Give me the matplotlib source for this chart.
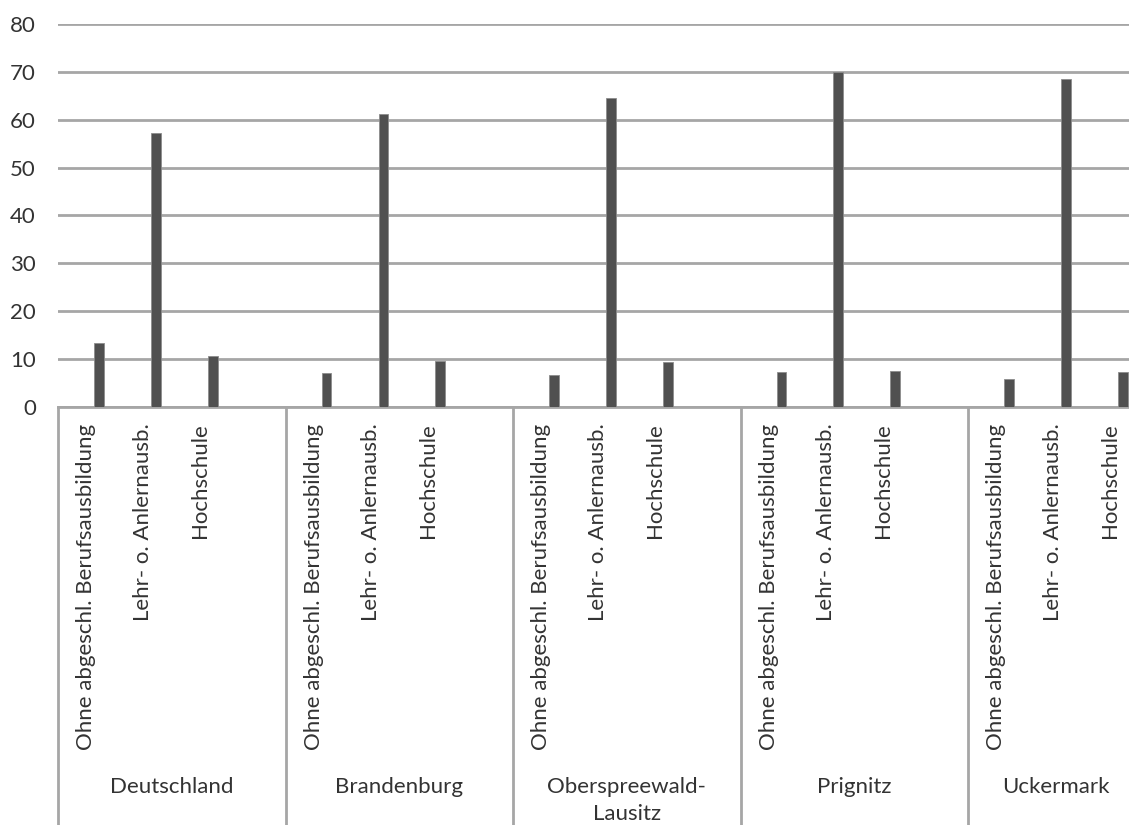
import numpy as np
import matplotlib
matplotlib.use("Agg")
import matplotlib.pyplot as plt
from matplotlib.transforms import blended_transform_factory

# --- Daten ---
regionen = ["Deutschland", "Brandenburg", "Oberspreewald-\nLausitz", "Prignitz", "Uckermark"]
abschluss = ["Ohne abgeschl. Berufsausbildung", "Lehr- o. Anlernausb.", "Hochschule"]
werte = [
    [13.4, 57.2, 10.7],   # Deutschland
    [7.2, 61.2, 9.7],     # Brandenburg
    [6.6, 64.6, 9.4],     # Oberspreewald-Lausitz
    [7.3, 69.9, 7.6],     # Prignitz
    [5.9, 68.6, 7.3],     # Uckermark
]
y_ticks = [0, 10, 20, 30, 40, 50, 60, 70, 80]

TEXT = "#333333"
GRID = "#a6a6a6"
BAR = "#505050"

plt.rcParams["font.family"] = ["Lato", "DejaVu Sans"]

fig = plt.figure(figsize=(11.29, 8.25), dpi=100)
ax = fig.add_axes([0.0514, 0.5067, 1.0075, 0.4642])

# jede Region: 3 Kategorien + 1 leerer Platz
pos, labels, hoehen = [], [], []
for g, reihe in enumerate(werte):
    for k, v in enumerate(reihe):
        pos.append(g * 4 + k)
        labels.append(abschluss[k])
        hoehen.append(v)
pos = np.array(pos)

ax.bar(pos + 0.22, hoehen, width=0.17, color=BAR, edgecolor="#8c8c8c",
       linewidth=0.6, zorder=3)

ax.set_xlim(-0.5, 19.5)
ax.set_ylim(0, 80)
ax.set_yticks(y_ticks)
ax.set_xticks(pos)
ax.set_xticklabels(labels, rotation=90)
ax.tick_params(axis="y", length=0, pad=16, labelsize=16, labelcolor=TEXT)
ax.tick_params(axis="x", length=0, pad=12, labelsize=16, labelcolor=TEXT)

ax.grid(axis="y", color=GRID, linewidth=2, zorder=0)
for s in ["left", "right", "top"]:
    ax.spines[s].set_visible(False)
ax.spines["bottom"].set_color(GRID)
ax.spines["bottom"].set_linewidth(2)

# Trennlinien zwischen Regionen
trans = blended_transform_factory(ax.transData, ax.transAxes)
for g in range(6):
    ax.plot([g * 4 - 0.5] * 2, [0, -1.2], transform=trans, color=GRID,
            linewidth=2, clip_on=False, zorder=1)

# Regionsnamen (letzte Region im sichtbaren Bereich zentriert)
name_x = [1.5, 5.5, 9.5, 13.5, 17.05]
trans_fig = blended_transform_factory(ax.transData, fig.transFigure)
for x, name in zip(name_x, regionen):
    ax.text(x, 0.058, name, transform=trans_fig, ha="center", va="top",
            fontsize=16, color=TEXT, linespacing=1.45)

fig.savefig("out.png", dpi=100)
